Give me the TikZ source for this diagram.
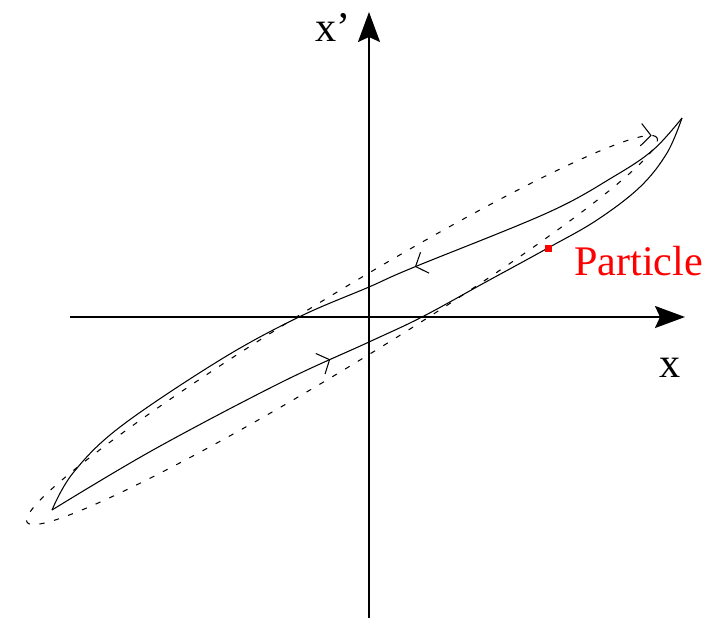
\documentclass[tikz,border=0pt]{standalone}
\usepackage{fontspec}
\setmainfont{Liberation Serif}
\usetikzlibrary{arrows.meta, decorations.markings}
\definecolor{particleRed}{HTML}{FF0000}

\begin{document}
\begin{tikzpicture}[
    axis/.style={line width=1.1pt, -{Stealth[length=6mm, width=4.4mm, inset=1mm]}},
    orbit/.style={line width=0.6pt},
    envelope/.style={line width=0.6pt, dash pattern=on 3pt off 5.5pt},
    flow/.style={postaction={decorate}, decoration={markings,
        mark=at position #1 with {\arrow{Straight Barb[length=2mm, width=4.5mm, line width=0.6pt]}}}},
    backflow/.style={postaction={decorate}, decoration={markings,
        mark=at position #1 with {\arrowreversed{Straight Barb[length=2mm, width=4.5mm, line width=0.6pt]}}}},
    lbl/.style={font=\fontsize{24}{28}\selectfont, anchor=base west}
  ]
  \useasboundingbox (-7.38,-6.04) rectangle (6.92,6.34);

  % axes
  \coordinate (O) at (0,0);
  \coordinate (xmin) at (-5.98,0);
  \coordinate (xmax) at (6.32,0);
  \coordinate (ymin) at (0,-6.02);
  \coordinate (ymax) at (0,6.1);
  \draw[axis] (xmin) -- (xmax);
  \draw[axis] (ymin) -- (ymax);
  \node[lbl] (xlab) at (5.68,-1.2) {x};
  \node[lbl] (ylab) at (-1.2,5.5) {x’};

  % matched ellipse
  \coordinate (C) at (-0.54,-0.26);
  \draw[envelope, backflow=0.004, rotate around={31.4:(C)}] (C) ellipse (7.38 and 0.7);

  % filamented beam
  \coordinate (T) at (6.26,3.98);
  \coordinate (B) at (-6.34,-3.86);
  \draw[orbit, flow=0.41] plot[smooth, tension=0.6] coordinates {(6.26,3.98) (5.68,3.34) (4.88,2.8)
    (3.56,2.08) (0.86,0.98) (0,0.6) (-1.4,0) (-2.98,-0.86) (-4.98,-2.2) (-5.92,-3.12) (-6.34,-3.86)};
  \draw[orbit, flow=0.42] plot[smooth, tension=0.6] coordinates {(-6.34,-3.86) (-4.32,-2.66) (-1.78,-1.32)
    (0,-0.5) (1.06,0) (2.3,0.68) (3.58,1.38) (4.56,1.94) (5.42,2.6) (5.96,3.28) (6.26,3.98)};

  % particle
  \fill[particleRed] (3.51,1.31) rectangle (3.65,1.45);
  \node[lbl, text=particleRed] (plab) at (3.98,0.84) {Particle};
\end{tikzpicture}
\end{document}
